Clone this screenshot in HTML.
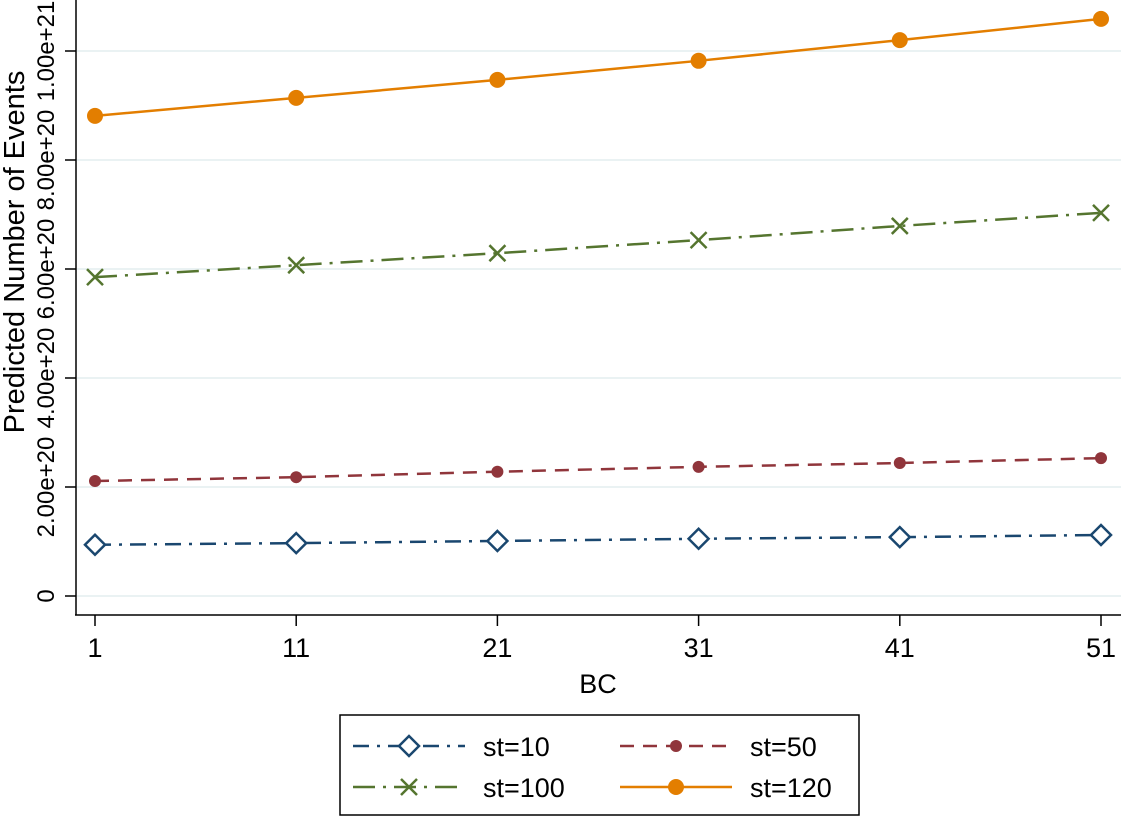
<!DOCTYPE html>
<html><head><meta charset="utf-8"><style>
body{margin:0;background:#fff}
svg{display:block;font-family:"Liberation Sans",sans-serif}
</style></head><body>
<svg id="chart" width="1121" height="817" viewBox="0 0 1121 817">
<rect width="1121" height="817" fill="#fff"/>
<g id="grid"></g>
<g id="axes"></g>
<g id="series"></g>
<text x="598" y="693" font-size="27" text-anchor="middle">BC</text>
<text transform="translate(24,252) rotate(-90)" font-size="29" text-anchor="middle">Predicted Number of Events</text>
<g id="legend">
<rect x="340" y="715" width="519" height="100" fill="#fff" stroke="#000" stroke-width="1.5"/>
</g>
</svg>
<script>
const categories=[1,11,21,31,41,51];
const seriesNames=['st=10','st=50','st=100','st=120'];
const st10=[0.94,0.97,1.01,1.05,1.08,1.12];
const st50=[2.11,2.18,2.28,2.37,2.44,2.53];
const st100=[5.85,6.07,6.29,6.53,6.79,7.03];
const st120=[8.81,9.14,9.47,9.82,10.2,10.59];
const yTicks=[0,2,4,6,8,10];
const yTickLabels=['0','2.00e+20','4.00e+20','6.00e+20','8.00e+20','1.00e+21'];
const NS='http://www.w3.org/2000/svg';
function X(v){return 95+(v-1)*(1101-95)/50;}
function Y(v){return 596-v*54.5;}
function mk(tag,attrs,parent){const e=document.createElementNS(NS,tag);for(const k in attrs)e.setAttribute(k,attrs[k]);parent.appendChild(e);return e;}
const grid=document.getElementById('grid'),axes=document.getElementById('axes'),ser=document.getElementById('series'),leg=document.getElementById('legend');
yTicks.forEach((t,i)=>{
 const g=mk('line',{x1:77,x2:1121,y1:Y(t),y2:Y(t),stroke:'#eaf2f3','stroke-width':2},grid);
 
 
 const tk=mk('line',{x1:65,x2:76,y1:Y(t),y2:Y(t),stroke:'#000','stroke-width':1.5},axes);
 
 
 const tx=mk('text',{transform:`translate(54,${Y(t)}) rotate(-90)`,'font-size':24,'text-anchor':'middle'},axes);
 tx.textContent=yTickLabels[i];
 
 
});
const ya=mk('line',{x1:76,x2:76,y1:0,y2:615,stroke:'#000','stroke-width':1.5},axes);


const xa=mk('line',{x1:75,x2:1121,y1:615,y2:615,stroke:'#000','stroke-width':1.5},axes);


categories.forEach(c=>{
 const tk=mk('line',{x1:X(c),x2:X(c),y1:615,y2:626,stroke:'#000','stroke-width':1.5},axes);
 
 
 const tx=mk('text',{x:X(c),y:657,'font-size':27,'text-anchor':'middle'},axes);
 tx.textContent=c;
 
 
});
const styles=[
 {data:st10,color:'#1a476f',dash:'16,8,3,8',marker:'diamond'},
 {data:st50,color:'#90353b',dash:'14,9',marker:'smalldot'},
 {data:st100,color:'#55752f',dash:'22,8,3,8',marker:'x'},
 {data:st120,color:'#e37e00',dash:'',marker:'dot'}];
function marker(type,x,y,color,parent){
 let e;
 if(type==='diamond')e=mk('path',{d:`M${x} ${y-10}L${x+10} ${y}L${x} ${y+10}L${x-10} ${y}Z`,fill:'#fff',stroke:color,'stroke-width':2.5},parent);
 else if(type==='smalldot')e=mk('circle',{cx:x,cy:y,r:6,fill:color},parent);
 else if(type==='dot')e=mk('circle',{cx:x,cy:y,r:8,fill:color},parent);
 else e=mk('path',{d:`M${x-8} ${y-8}L${x+8} ${y+8}M${x-8} ${y+8}L${x+8} ${y-8}`,stroke:color,'stroke-width':2.5},parent);
 return e;
}
styles.forEach((s,i)=>{
 const pl=mk('polyline',{points:s.data.map((v,j)=>X(categories[j])+','+Y(v)).join(' '),fill:'none',stroke:s.color,'stroke-width':2.5,'stroke-dasharray':s.dash},ser);
 
 
 s.data.forEach((v,j)=>{
  const m=marker(s.marker,X(categories[j]),Y(v),s.color,ser);
  
  
 });
 const lx=i%2===0?353:620, ly=i<2?746:787;
 const ll=mk('line',{x1:lx,x2:lx+112,y1:ly,y2:ly,stroke:s.color,'stroke-width':2.5,'stroke-dasharray':s.dash},leg);
 
 
 const lm=marker(s.marker,lx+56,ly,s.color,leg);
 
 
 const lt=mk('text',{x:i%2===0?483:750,y:ly+10,'font-size':27},leg);
 lt.textContent=seriesNames[i];
 
 
});
</script>
</body></html>
